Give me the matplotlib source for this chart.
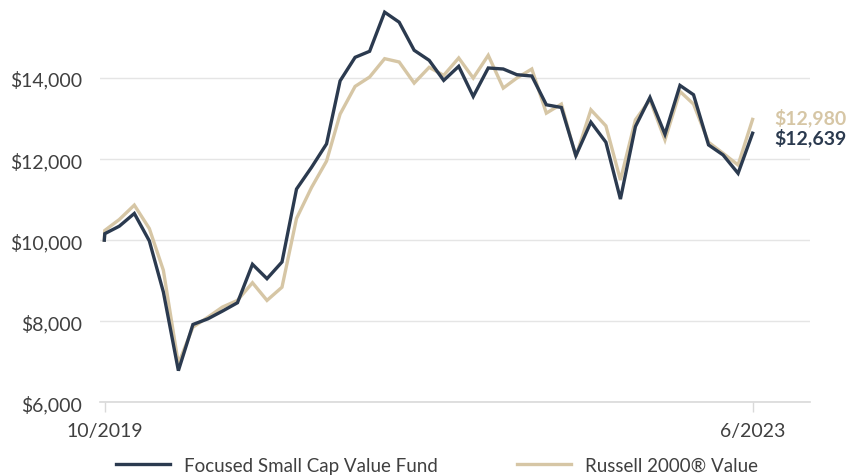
"""
plot.py — growth of $10,000: fund vs Russell 2000 Value
"""
import numpy as np
import pandas as pd
import matplotlib
matplotlib.use('Agg')
import matplotlib.pyplot as plt

# ── data ──────────────────────────────────────────────────────
inception_date = '2019-10-30'
month_ends = pd.date_range('2019-10-31', '2023-06-30', freq='ME')
dates = pd.DatetimeIndex([pd.Timestamp(inception_date)]).append(month_ends)

fund = [10000,
        10160, 10345, 10659, 9982, 8720, 6781, 7920, 8060, 8250, 8456,
        9405, 9050, 9462, 11261, 11797, 12375, 13930, 14511, 14660, 15625,
        15378, 14685, 14437, 13942, 14289, 13546, 14248, 14223, 14083, 14050,
        13340, 13274, 12086, 12911, 12416, 11014, 12804, 13521, 12614, 13818,
        13588, 12350, 12103, 11649, 12639]
bench = [10000,
         10240, 10510, 10865, 10287, 9256, 6950, 7854, 8100, 8350, 8514,
         8950, 8514, 8840, 10535, 11300, 11950, 13110, 13794, 14025, 14478,
         14396, 13876, 14264, 14066, 14495, 14000, 14561, 13752, 14000, 14223,
         13134, 13357, 12061, 13216, 12820, 11484, 12969, 13464, 12474, 13670,
         13357, 12416, 12144, 11855, 12980]

fund_label = 'Focused Small Cap Value Fund'
bench_label = 'Russell 2000® Value'
y_ticks = [6000, 8000, 10000, 12000, 14000]
x_tick_dates = ['2019-10-31', '2023-06-30']
x_tick_labels = ['10/2019', '6/2023']

DARK = '#2b3a4f'
BEIGE = '#d6c6a5'
TXT = '#404040'

plt.rcParams['font.family'] = ['Lato', 'DejaVu Sans']

# ── plot ─────────────────────────────────────────────────────
fig = plt.figure(figsize=(8.47, 4.77), dpi=100)
ax = fig.add_axes([0.118, 0.1545, 0.838, 0.8455])

ax.plot(dates, bench, color=BEIGE, lw=2.4, label=bench_label, solid_joinstyle='miter', zorder=3)
ax.plot(dates, fund, color=DARK, lw=2.4, label=fund_label, solid_joinstyle='miter', zorder=4)

ax.set_ylim(6000, 15950)
ax.set_xlim(pd.Timestamp('2019-10-21'), pd.Timestamp('2023-10-26'))

ax.set_yticks(y_ticks)
ax.set_yticklabels([f'${v:,.0f}' for v in y_ticks], fontsize=14, color=TXT)
ax.tick_params(axis='y', length=0, pad=13)
ax.grid(axis='y', color='#e5e5e5', lw=1)
ax.set_axisbelow(True)

ax.set_xticks([pd.Timestamp(d) for d in x_tick_dates])
ax.set_xticklabels(x_tick_labels, fontsize=14, color=TXT)
ax.tick_params(axis='x', length=7, width=1, color='#d9d9d9', pad=7)

for s in ['top', 'right', 'left']:
    ax.spines[s].set_visible(False)
ax.spines['bottom'].set_color('#d9d9d9')
ax.spines['bottom'].set_linewidth(1.2)

# end-value labels
ax.annotate(f'${bench[-1]:,}', xy=(dates[-1], bench[-1]), xytext=(22, 3),
            textcoords='offset pixels', color=BEIGE, fontsize=14, fontweight='bold',
            va='center', ha='left')
ax.annotate(f'${fund[-1]:,}', xy=(dates[-1], fund[-1]), xytext=(22, -4),
            textcoords='offset pixels', color=DARK, fontsize=14, fontweight='bold',
            va='center', ha='left')

h, l = ax.get_legend_handles_labels()
fig.legend(h[::-1], l[::-1], loc='center', bbox_to_anchor=(0.516, 0.022), ncol=2,
           frameon=False, fontsize=13.5, handlelength=2.9, handletextpad=0.75,
           columnspacing=4.2, labelcolor=TXT)

fig.savefig('out.png', dpi=100)
